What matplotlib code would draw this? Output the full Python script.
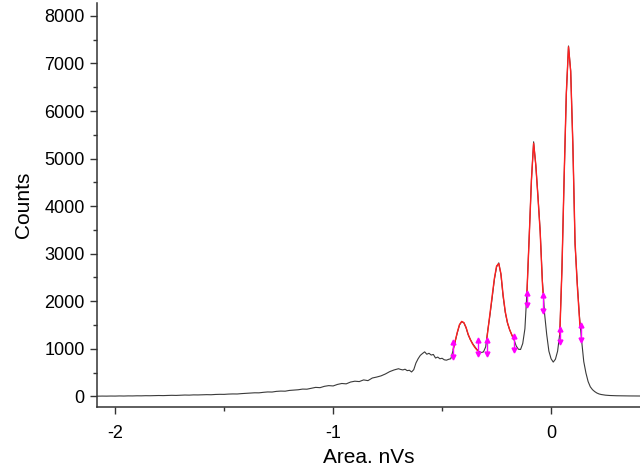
import matplotlib
matplotlib.use("Agg")
import matplotlib.pyplot as plt
from matplotlib.ticker import MultipleLocator

plt.rcParams['font.family'] = ['Liberation Sans', 'DejaVu Sans']
plt.rcParams['axes.unicode_minus'] = False

# spectrum, left tail (0.02 nVs bins)
tail_x = [-2.08, -2.06, -2.04, -2.02, -2.00, -1.98, -1.96, -1.94, -1.92, -1.90,
          -1.88, -1.86, -1.84, -1.82, -1.80, -1.78, -1.76, -1.74, -1.72, -1.70,
          -1.68, -1.66, -1.64, -1.62, -1.60, -1.58, -1.56, -1.54, -1.52, -1.50,
          -1.48, -1.46, -1.44, -1.42, -1.40, -1.38, -1.36, -1.34, -1.32, -1.30,
          -1.28, -1.26, -1.24, -1.22, -1.20, -1.18, -1.16, -1.14, -1.12, -1.10,
          -1.08, -1.06, -1.04, -1.02, -1.00, -0.98, -0.96, -0.94, -0.92, -0.90,
          -0.88, -0.86, -0.84, -0.82, -0.80, -0.78, -0.76, -0.74, -0.72]
tail_counts = [3, 5, 4, 6, 5, 8, 6, 9, 8, 11,
               10, 13, 12, 15, 17, 15, 19, 21, 19, 24,
               27, 25, 30, 29, 33, 35, 33, 39, 42, 41,
               47, 50, 49, 57, 62, 66, 74, 73, 84, 92,
               90, 104, 110, 108, 124, 130, 138, 152, 150, 170,
               188, 182, 210, 225, 218, 250, 270, 262, 300, 318,
               310, 345, 330, 385, 405, 430, 470, 520, 555]

# spectrum, peak region (0.01 nVs bins)
peak_x = [-0.70, -0.69, -0.68, -0.67, -0.66, -0.65, -0.64, -0.63, -0.62, -0.61,
          -0.60, -0.59, -0.58, -0.57, -0.56, -0.55, -0.54, -0.53, -0.52, -0.51,
          -0.50, -0.49, -0.48, -0.47, -0.46, -0.45, -0.44, -0.43, -0.42, -0.41,
          -0.40, -0.39, -0.38, -0.37, -0.36, -0.35, -0.34, -0.33, -0.32, -0.31,
          -0.30, -0.29, -0.28, -0.27, -0.26, -0.25, -0.24, -0.23, -0.22, -0.21,
          -0.20, -0.19, -0.18, -0.17, -0.16, -0.15, -0.14, -0.13, -0.12, -0.11,
          -0.10, -0.09, -0.08, -0.07, -0.06, -0.05, -0.04, -0.03, -0.02, -0.01,
          0.00, 0.01, 0.02, 0.03, 0.04, 0.05, 0.06, 0.07, 0.08, 0.09,
          0.10, 0.11, 0.12, 0.13, 0.14, 0.15, 0.16, 0.17, 0.18, 0.19,
          0.20, 0.21, 0.22, 0.23, 0.24, 0.25, 0.26, 0.27, 0.28, 0.29,
          0.30, 0.32, 0.34, 0.36, 0.38, 0.40, 0.42]
peak_counts = [580, 565, 555, 570, 540, 548, 512, 560, 700, 790,
               860, 900, 935, 885, 905, 868, 880, 805, 825, 790,
               800, 768, 760, 778, 790, 960, 1150, 1340, 1500, 1570,
               1545, 1440, 1290, 1190, 1110, 1045, 985, 940, 920, 935,
               1040, 1400, 1720, 2080, 2460, 2720, 2806, 2560, 2100, 1760,
               1540, 1400, 1290, 1190, 1060, 990, 985, 1110, 1420, 2250,
               3400, 4550, 5353, 4850, 4200, 3480, 2450, 1750, 1300, 950,
               790, 720, 780, 950, 1320, 2700, 4600, 6350, 7368, 6850,
               5300, 3200, 2400, 1700, 1180, 730, 490, 310, 200, 140,
               100, 70, 50, 38, 30, 24, 20, 17, 15, 13,
               12, 10, 9, 8, 8, 7, 6]

# fitted peaks (red)
fit1_x = [-0.449, -0.44, -0.43, -0.42, -0.41, -0.40, -0.39, -0.38, -0.37, -0.36, -0.35, -0.34, -0.336]
fit1_y = [990, 1160, 1350, 1510, 1575, 1550, 1450, 1300, 1190, 1100, 1030, 975, 960]
fit2_x = [-0.295, -0.29, -0.28, -0.27, -0.26, -0.25, -0.24, -0.23, -0.22, -0.21, -0.20, -0.19, -0.18, -0.171]
fit2_y = [1200, 1380, 1750, 2120, 2480, 2740, 2790, 2580, 2130, 1780, 1550, 1400, 1290, 1200]
fit3_x = [-0.111, -0.10, -0.09, -0.08, -0.07, -0.06, -0.05, -0.04, -0.037]
fit3_y = [2150, 3380, 4560, 5320, 4870, 4180, 3460, 2400, 2180]
fit4_x = [0.040, 0.05, 0.06, 0.07, 0.08, 0.09, 0.10, 0.11, 0.12, 0.13, 0.133]
fit4_y = [1300, 2680, 4620, 6380, 7350, 6830, 5280, 3250, 2350, 1650, 1450]

# fit range markers
mark_x = [-0.449, -0.336, -0.295, -0.171, -0.111, -0.038, 0.041, 0.136]
mark_top = [1143, 1179, 1179, 1263, 2180, 2126, 1425, 1494]
mark_bot = [827, 890, 900, 968, 1915, 1789, 1143, 1179]

fig = plt.figure(figsize=(6.4, 4.73), dpi=100)
ax = fig.add_axes([0.1516, 0.1395, 0.8484, 0.854])

ax.plot(tail_x + peak_x, tail_counts + peak_counts, color='#3a3a3a', lw=0.8)
for fx, fy in [(fit1_x, fit1_y), (fit2_x, fit2_y), (fit3_x, fit3_y), (fit4_x, fit4_y)]:
    ax.plot(fx, fy, color='#ff2020', lw=1.0)

ax.vlines(mark_x, mark_bot, mark_top, color='#ff00ff', lw=1.0)
ax.plot(mark_x, mark_top, '^', color='#ff00ff', ms=3.5, mec='#ff00ff')
ax.plot(mark_x, mark_bot, 'v', color='#ff00ff', ms=3.5, mec='#ff00ff')

ax.set_xlim(-2.083, 0.408)
ax.set_ylim(-225, 8270)
ax.xaxis.set_major_locator(MultipleLocator(1))
ax.xaxis.set_minor_locator(MultipleLocator(0.5))
ax.yaxis.set_major_locator(MultipleLocator(1000))
ax.yaxis.set_minor_locator(MultipleLocator(500))

for s in ['top', 'right']:
    ax.spines[s].set_visible(False)
for s in ['left', 'bottom']:
    ax.spines[s].set_color('#333333')
    ax.spines[s].set_linewidth(1.1)
ax.tick_params(which='major', direction='out', length=5, width=1.0, color='#333333',
               labelsize=13, labelcolor='black', pad=4)
ax.tick_params(axis='x', which='major', pad=8)
ax.tick_params(which='minor', direction='out', length=3, width=1.0, color='#333333')

ax.set_xlabel('Area. nVs', fontsize=15, labelpad=4)
ax.set_ylabel('Counts', fontsize=15, labelpad=8)

fig.savefig('out.png', dpi=100)
